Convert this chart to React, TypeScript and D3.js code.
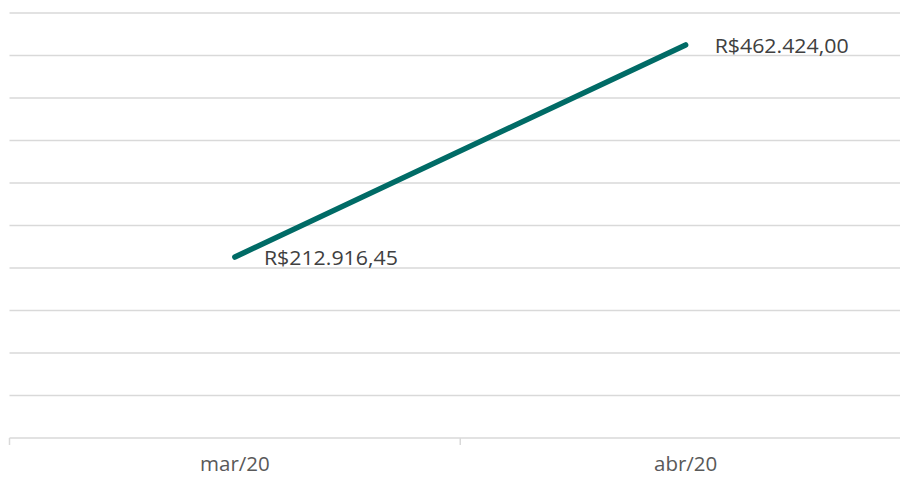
import React from "react";
import * as d3 from "d3";

const categories: string[] = ["mar/20", "abr/20"];
const values: number[] = [212916.45, 462424.0];
const valueLabels: string[] = ["R$212.916,45", "R$462.424,00"];
const yTicks: number[] = [0, 50000, 100000, 150000, 200000, 250000, 300000, 350000, 400000, 450000, 500000];

const W = 900;
const H = 477;
const left = 9.5;
const right = 911;
const top = 13;
const bottom = 438;

export default function App() {
  const x = d3.scaleBand<string>().domain(categories).range([left, right]);
  const y = d3.scaleLinear().domain([0, 500000]).range([bottom, top]);
  const pts = categories.map((c, i) => [x(c)! + x.bandwidth() / 2, y(values[i])] as [number, number]);
  const line = d3.line()(pts) || "";
  const tickXs = [left, ...categories.map((c) => x(c)! + x.bandwidth())];
  const font = "'Open Sans', 'Noto Sans', sans-serif";
  return (
    <div style={{ position: "fixed", left: 0, top: 0, width: W, height: H, background: "#fff" }}>
      <svg width={W} height={H} style={{ display: "block" }}>
        {yTicks.slice(1).map((t) => (
          <line key={t} x1={left} x2={W} y1={y(t)} y2={y(t)} stroke="#d9d9d9" strokeWidth={1.5} />
        ))}
        <line x1={left} x2={W} y1={bottom} y2={bottom} stroke="#d9d9d9" strokeWidth={1.5} />
        {tickXs.map((tx, i) => (
          <line key={i} x1={tx} x2={tx} y1={bottom} y2={bottom + 7} stroke="#d9d9d9" strokeWidth={1.5} />
        ))}
        <path d={line} fill="none" stroke="#006b66" strokeWidth={5.5} strokeLinecap="round" />
        {pts.map((p, i) => (
          <text key={i} x={p[0] + 29} y={p[1] + 8} fontFamily={font} fontSize={20.5} textLength={134} lengthAdjust="spacingAndGlyphs" fill="#404040">
            {valueLabels[i]}
          </text>
        ))}
        {categories.map((c) => (
          <text key={c} x={x(c)! + x.bandwidth() / 2} y={471} textAnchor="middle" fontFamily={font} fontSize={20.5} fill="#595959">
            {c}
          </text>
        ))}
      </svg>
    </div>
  );
}
